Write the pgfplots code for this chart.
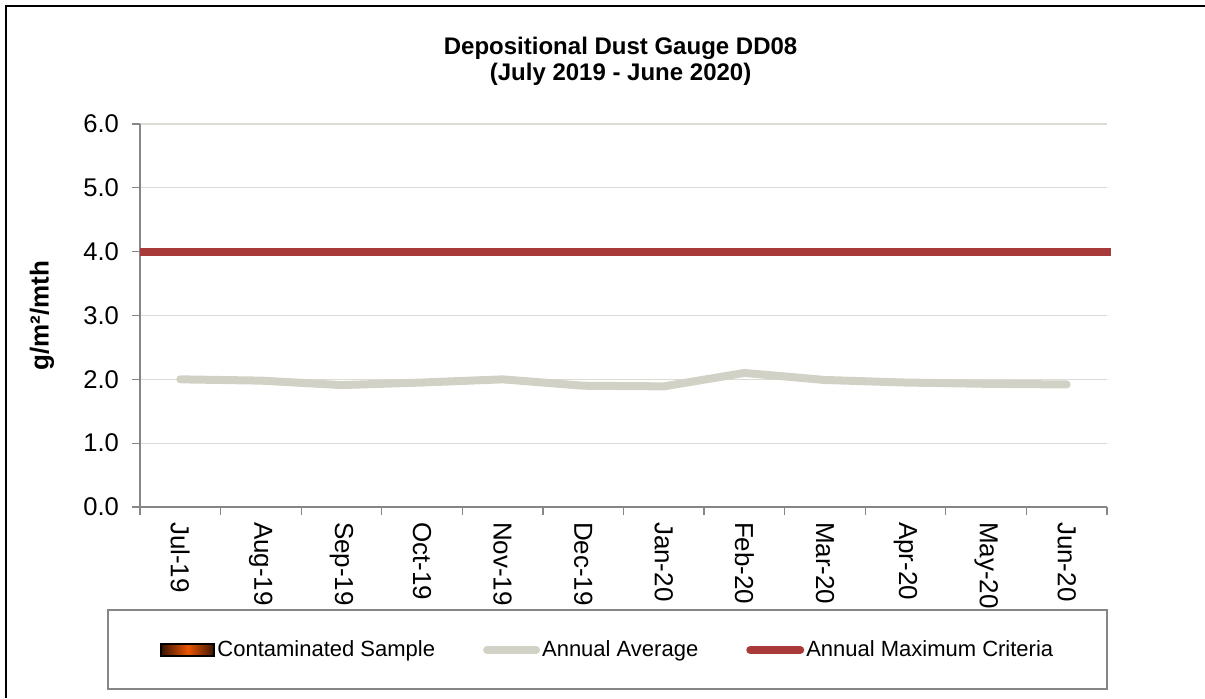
\documentclass[border=0pt]{standalone}
\usepackage{fontspec}
\setmainfont{Liberation Sans}
\usepackage{pgfplots}
\pgfplotsset{compat=1.18}
\definecolor{avgline}{HTML}{D1D1C5}
\definecolor{maxline}{HTML}{A93A3A}
\definecolor{gridc}{HTML}{DCDCD4}
\definecolor{axisc}{HTML}{868686}
\definecolor{contdark}{HTML}{3A1500}
\definecolor{contorange}{HTML}{EA5500}

\begin{document}
\begin{tikzpicture}
\useasboundingbox (0,0) rectangle (602.5pt,349pt);
% chart frame (only left and top edges are inside the picture)
\draw[black, line width=1.3pt] (3pt,0) -- (3pt,346pt) -- (603pt,346pt);
% legend frame
\draw[axisc, line width=0.6pt] (54pt,4.5pt) rectangle (553.5pt,44pt);

\begin{axis}[
    at={(70pt,95.5pt)}, anchor=south west,
    scale only axis,
    width=483.5pt, height=191.5pt,
    xmin=-0.5, xmax=11.5,
    ymin=0, ymax=6,
    axis x line*=bottom, axis y line*=left,
    axis line style={axisc, line width=0.6pt, -},
    xtick={-0.5,0.5,...,11.5},
    x tick label as interval,
    xticklabels={Jul-19,Aug-19,Sep-19,Oct-19,Nov-19,Dec-19,Jan-20,Feb-20,Mar-20,Apr-20,May-20,Jun-20},
    x tick label style={rotate=-90, anchor=west, font=\fontsize{13}{13}\selectfont},
    ytick={0,1,...,6},
    y tick label style={font=\fontsize{12.8}{13}\selectfont, xshift=-3pt},
    yticklabel style={/pgf/number format/.cd, fixed, fixed zerofill, precision=1, assume math mode=true},
    tick align=outside,
    major tick length=4pt,
    tick style={axisc, line width=0.6pt},
    ymajorgrids,
    grid style={gridc, line width=0.6pt},
    ylabel={g/m²/mth},
    ylabel style={at={(axis description cs:-0.1013,0.5)}, anchor=center, font=\fontsize{13}{13}\selectfont\bfseries},
    title={Depositional Dust Gauge DD08\\(July 2019 - June 2020)},
    title style={at={(axis description cs:0.497,1)}, anchor=south, yshift=13pt, inner sep=0pt, align=center, font=\fontsize{12}{13.2}\selectfont\bfseries},
    legend columns=3,
    legend style={at={(axis description cs:0.0207,-0.3734)}, anchor=west, draw=none, fill=none, inner sep=0pt,
        font=\fontsize{11}{12}\selectfont,
        nodes={inner sep=1pt},
        /tikz/every even column/.append style={column sep=23pt}},
    legend cell align=left,
    clip=false,
]
\addlegendimage{legend image code/.code={
    \shade[left color=contdark, right color=contdark, middle color=contorange] (0pt,-3pt) rectangle (26.5pt,3pt);
    \draw[black, line width=1pt] (0pt,-3pt) rectangle (26.5pt,3pt);}}
\addlegendentry{Contaminated Sample}

\addplot[avgline, line width=4pt, line cap=round, line join=round,
    legend image code/.code={\draw[avgline, line width=4pt, line cap=round] (2pt,0pt) -- (26.5pt,0pt);}]
    coordinates {
    (0,2.00) (1,1.98) (2,1.91) (3,1.95) (4,2.00) (5,1.90)
    (6,1.89) (7,2.10) (8,1.99) (9,1.95) (10,1.93) (11,1.92)};
\addlegendentry{Annual Average}

\addplot[maxline, line width=4pt,
    legend image code/.code={\draw[maxline, line width=4pt, line cap=round] (2pt,0pt) -- (27pt,0pt);}]
    coordinates {(-0.5,4.0) (11.55,4.0)};
\addlegendentry{Annual Maximum Criteria}
\end{axis}
\end{tikzpicture}
\end{document}
